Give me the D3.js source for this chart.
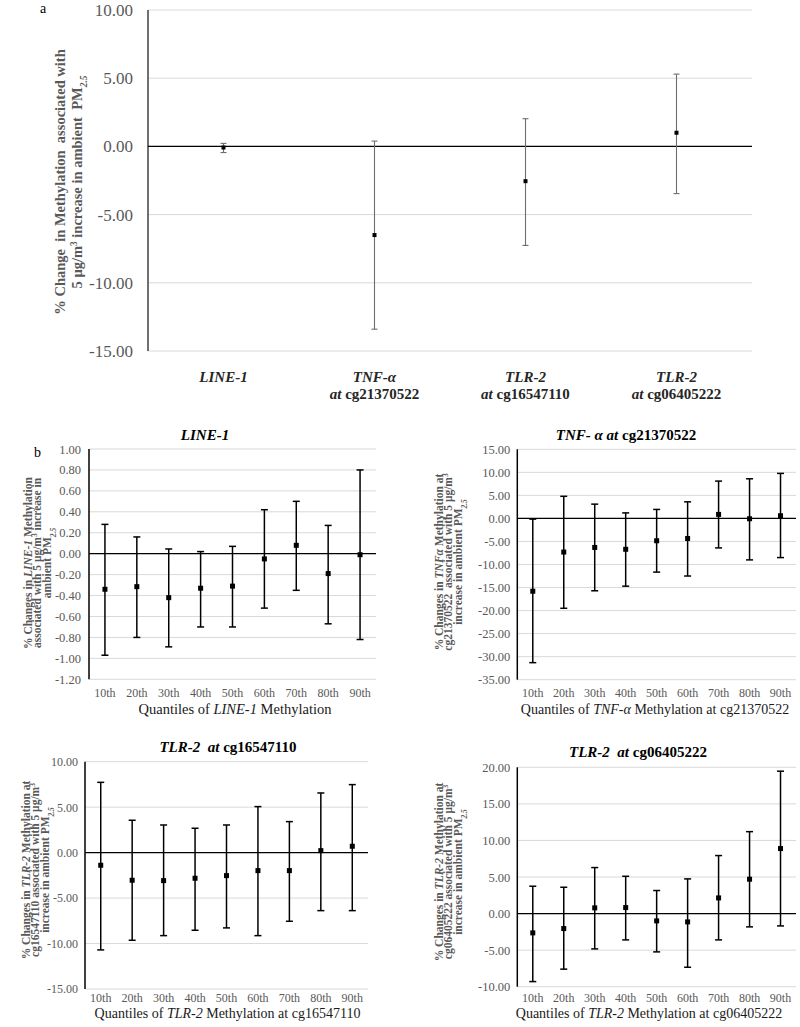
<!DOCTYPE html>
<html><head><meta charset="utf-8">
<script src="https://cdn.jsdelivr.net/npm/d3@7"></script>
<style>
body{margin:0;background:#fff}
svg{display:block}
text{font-family:"Liberation Serif","Times New Roman",serif;white-space:pre}
</style>
</head><body>
<svg id="chart" width="800" height="1027"></svg>
<script>
// ---------- Panel a ----------
const aGenes = ["LINE-1", "TNF-α", "TLR-2", "TLR-2"];
const aSites = ["", "cg21370522", "cg16547110", "cg06405222"];
const aEstimate = [-0.08, -6.5, -2.55, 1.0];
const aLower = [-0.45, -13.4, -7.26, -3.46];
const aUpper = [0.22, 0.39, 2.03, 5.3];
const aTicks = [10, 5, 0, -5, -10, -15];

// ---------- Panel b ----------
const quantiles = ["10th", "20th", "30th", "40th", "50th", "60th", "70th", "80th", "90th"];

const line1Estimate = [-0.34, -0.315, -0.42, -0.33, -0.31, -0.05, 0.08, -0.19, -0.01];
const line1Lower = [-0.97, -0.80, -0.89, -0.70, -0.70, -0.52, -0.35, -0.67, -0.82];
const line1Upper = [0.28, 0.16, 0.045, 0.02, 0.07, 0.42, 0.50, 0.27, 0.80];
const line1Ticks = [1.0, 0.8, 0.6, 0.4, 0.2, 0, -0.2, -0.4, -0.6, -0.8, -1.0, -1.2];

const tnfEstimate = [-15.8, -7.3, -6.3, -6.7, -4.85, -4.35, 0.87, -0.07, 0.58];
const tnfLower = [-31.3, -19.5, -15.7, -14.7, -11.65, -12.5, -6.4, -9.0, -8.5];
const tnfUpper = [-0.15, 4.8, 3.1, 1.2, 1.95, 3.6, 8.1, 8.6, 9.77];
const tnfTicks = [15, 10, 5, 0, -5, -10, -15, -20, -25, -30, -35];

const tlr165Estimate = [-1.39, -3.04, -3.08, -2.82, -2.53, -1.98, -1.98, 0.22, 0.70];
const tlr165Lower = [-10.7, -9.64, -9.13, -8.54, -8.28, -9.13, -7.55, -6.38, -6.38];
const tlr165Upper = [7.73, 3.56, 3.04, 2.68, 3.04, 5.06, 3.41, 6.56, 7.48];
const tlr165Ticks = [10, 5, 0, -5, -10, -15];

const tlr064Estimate = [-2.64, -2.05, 0.78, 0.82, -1.0, -1.14, 2.14, 4.7, 8.89];
const tlr064Lower = [-9.3, -7.6, -4.83, -3.6, -5.24, -7.34, -3.6, -1.82, -1.69];
const tlr064Upper = [3.74, 3.6, 6.29, 5.1, 3.15, 4.74, 7.93, 11.2, 19.47];
const tlr064Ticks = [20, 15, 10, 5, 0, -5, -10];

const svg = d3.select("#chart");

// rich text helper: segments [text, flags] flags: i italic, b bold, s sub, p sup
function rich(sel, segs) {
  segs.forEach(([t, f]) => {
    f = f || "";
    const ts = sel.append("tspan").text(t);
    if (f.includes("i")) ts.attr("font-style", "italic");
    if (f.includes("b")) ts.attr("font-weight", "bold");
    if (f.includes("s")) ts.attr("baseline-shift", "sub").attr("font-size", "65%");
    if (f.includes("p")) ts.attr("baseline-shift", "super").attr("font-size", "65%");
  });
  return sel;
}

function yTitle(cx, cy, lines, spacing, size) {
  const g = svg.append("g").attr("transform", `translate(${cx},${cy}) rotate(-90)`);
  lines.forEach((segs, i) => {
    const t = g.append("text")
      .attr("x", 0)
      .attr("y", (i - (lines.length - 1) / 2) * spacing)
      .attr("dy", "0.35em")
      .attr("text-anchor", "middle")
      .attr("font-size", size)
      .attr("font-weight", "bold")
      .attr("fill", "#595959");
    rich(t, segs);
  });
}

function panel(o) {
  const x = d3.scaleBand().domain(o.cats).range([o.x0, o.x1]).padding(0);
  const y = d3.scaleLinear().domain([d3.min(o.ticks), d3.max(o.ticks)]).range([o.yb, o.yt]);
  const g = svg.append("g");

  g.selectAll("line.grid").data(o.ticks.filter(d => d !== 0)).join("line")
    .attr("x1", o.x0).attr("x2", o.x1)
    .attr("y1", d => y(d)).attr("y2", d => y(d))
    .attr("stroke", "#d9d9d9").attr("stroke-width", 1);

  const ya = d3.axisLeft(y).tickValues(o.ticks).tickSize(0).tickPadding(o.tickPad)
    .tickFormat(d => d.toFixed(2));
  const yg = g.append("g").attr("transform", `translate(${o.x0},0)`).call(ya);
  yg.select(".domain").remove();
  yg.attr("font-family", null);
  yg.selectAll("text").attr("font-family", '"Liberation Serif",serif')
    .attr("font-size", o.tickSize).attr("fill", "#595959");

  g.append("line").attr("x1", o.x0).attr("x2", o.x0)
    .attr("y1", y(d3.max(o.ticks))).attr("y2", y(d3.min(o.ticks)))
    .attr("stroke", o.axisColor).attr("stroke-width", 1.5);

  g.append("line").attr("x1", o.x0).attr("x2", o.x1)
    .attr("y1", y(0)).attr("y2", y(0))
    .attr("stroke", "#000").attr("stroke-width", 1.3);

  if (o.xTicks) {
    const xa = d3.axisBottom(x).tickSize(0).tickPadding(0);
    const xg = g.append("g").attr("transform", `translate(0,${o.xTickY})`).call(xa);
    xg.select(".domain").remove();
    xg.attr("font-family", null);
    xg.selectAll("text").attr("dy", 0).attr("font-family", '"Liberation Serif",serif')
      .attr("font-size", o.xTickSize).attr("fill", "#595959");
  }

  const data = o.cats.map((c, i) => ({c, e: o.est[i], lo: o.lo[i], hi: o.hi[i]}));
  const cx = d => x(d.c) + x.bandwidth() / 2;
  const bars = g.selectAll("g.bar").data(data).join("g");
  bars.append("line").attr("x1", cx).attr("x2", cx)
    .attr("y1", d => y(d.lo)).attr("y2", d => y(d.hi))
    .attr("stroke", o.barColor).attr("stroke-width", o.barW);
  ["lo", "hi"].forEach(k => {
    bars.append("line").attr("x1", d => cx(d) - o.cap).attr("x2", d => cx(d) + o.cap)
      .attr("y1", d => y(d[k])).attr("y2", d => y(d[k]))
      .attr("stroke", o.barColor).attr("stroke-width", o.barW);
  });
  bars.append("rect")
    .attr("x", d => cx(d) - o.mk / 2).attr("y", d => y(d.e) - o.mk / 2)
    .attr("width", o.mk).attr("height", o.mk).attr("fill", "#000");
  return {x, y};
}

// ===== Panel a =====
const aCats = aGenes.map((g, i) => g + "|" + i);
const pa = panel({
  cats: aCats, est: aEstimate, lo: aLower, hi: aUpper, ticks: aTicks,
  x0: 148, x1: 752, yt: 10, yb: 351,
  tickPad: 15, tickSize: 17, axisColor: "#404040",
  barColor: "#6e6e6e", barW: 1.1, cap: 3, mk: 4
});
aCats.forEach((c, i) => {
  const cx = pa.x(c) + pa.x.bandwidth() / 2;
  rich(svg.append("text").attr("x", cx).attr("y", 382).attr("text-anchor", "middle")
    .attr("font-size", 15).attr("fill", "#262626"), [[aGenes[i], "bi"]]);
  if (aSites[i]) {
    rich(svg.append("text").attr("x", cx).attr("y", 399).attr("text-anchor", "middle")
      .attr("font-size", 15).attr("fill", "#262626"), [["at ", "bi"], [aSites[i], "b"]]);
  }
});
yTitle(68, 182, [
  [["% Change  in Methylation  associated with"]],
  [["5 μg/m"], ["3", "p"], [" increase in ambient  PM"], ["2.5", "si"]]
], 17, 14.5);
svg.append("text").attr("x", 40).attr("y", 13).attr("font-size", 14).text("a");

// ===== Panel b =====
svg.append("text").attr("x", 34).attr("y", 457).attr("font-size", 14).text("b");

const bCommon = {
  cats: quantiles, tickSize: 12.5, axisColor: "#000",
  barColor: "#000", barW: 1.5, cap: 3.5, mk: 5, xTicks: true, xTickSize: 12
};
const yTitleSize = 11.5, yTitleGap = 9.5;

// LINE-1
panel(Object.assign({}, bCommon, {
  est: line1Estimate, lo: line1Lower, hi: line1Upper, ticks: line1Ticks,
  x0: 89, x1: 376, yt: 449, yb: 679.3, tickPad: 8, xTickY: 697
}));
rich(svg.append("text").attr("x", 205).attr("y", 440).attr("text-anchor", "middle")
  .attr("font-size", 15), [["LINE-1", "bi"]]);
yTitle(37, 563, [
  [["% Changes in "], ["LINE-1", "i"], [" Methylation"]],
  [["associated with 5 μg/m"], ["3", "p"], [" increase in"]],
  [["ambient PM"], ["2.5", "si"]]
], yTitleGap, yTitleSize);
rich(svg.append("text").attr("x", 235).attr("y", 714).attr("text-anchor", "middle")
  .attr("font-size", 14.5).attr("fill", "#1a1a1a"),
  [["Quantiles of "], ["LINE-1", "i"], [" Methylation"]]);

// TNF-α
panel(Object.assign({}, bCommon, {
  est: tnfEstimate, lo: tnfLower, hi: tnfUpper, ticks: tnfTicks,
  x0: 517.3, x1: 796, yt: 449.3, yb: 679.7, tickPad: 7, xTickY: 697
}));
rich(svg.append("text").attr("x", 626).attr("y", 440).attr("text-anchor", "middle")
  .attr("font-size", 15), [["TNF- α at ", "bi"], ["cg21370522", "b"]]);
yTitle(448, 562, [
  [["% Changes in "], ["TNFα", "i"], [" Methylation at"]],
  [["cg21370522  associated with 5 μg/m"], ["3", "p"]],
  [["increase in ambient PM"], ["2.5", "si"]]
], yTitleGap, yTitleSize);
rich(svg.append("text").attr("x", 655).attr("y", 714).attr("text-anchor", "middle")
  .attr("font-size", 14).attr("fill", "#1a1a1a"),
  [["Quantiles of "], ["TNF-α", "i"], [" Methylation at cg21370522"]]);

// TLR-2 cg16547110
panel(Object.assign({}, bCommon, {
  est: tlr165Estimate, lo: tlr165Lower, hi: tlr165Upper, ticks: tlr165Ticks,
  x0: 85, x1: 368, yt: 761.7, yb: 989, tickPad: 7, xTickY: 1002, tickSize: 12
}));
rich(svg.append("text").attr("x", 228).attr("y", 752).attr("text-anchor", "middle")
  .attr("font-size", 15), [["TLR-2  at ", "bi"], ["cg16547110", "b"]]);
yTitle(35, 870, [
  [["% Changes in "], ["TLR-2", "i"], [" Methylation at"]],
  [["cg16547110 associated with 5 μg/m"], ["3", "p"]],
  [["increase in ambient PM"], ["2.5", "si"]]
], yTitleGap, yTitleSize);
rich(svg.append("text").attr("x", 227.5).attr("y", 1018).attr("text-anchor", "middle")
  .attr("font-size", 14).attr("fill", "#1a1a1a"),
  [["Quantiles of "], ["TLR-2", "i"], [" Methylation at cg16547110"]]);

// TLR-2 cg06405222
panel(Object.assign({}, bCommon, {
  est: tlr064Estimate, lo: tlr064Lower, hi: tlr064Upper, ticks: tlr064Ticks,
  x0: 517.3, x1: 796, yt: 767.3, yb: 986.7, tickPad: 7, xTickY: 1002
}));
rich(svg.append("text").attr("x", 638).attr("y", 757).attr("text-anchor", "middle")
  .attr("font-size", 15), [["TLR-2  at ", "bi"], ["cg06405222", "b"]]);
yTitle(448, 872, [
  [["% Changes in "], ["TLR-2", "i"], [" Methylation at"]],
  [["cg06405222 associated with 5 μg/m"], ["3", "p"]],
  [["increase in ambient PM"], ["2.5", "si"]]
], yTitleGap, yTitleSize);
rich(svg.append("text").attr("x", 649).attr("y", 1018).attr("text-anchor", "middle")
  .attr("font-size", 14).attr("fill", "#1a1a1a"),
  [["Quantiles of "], ["TLR-2", "i"], [" Methylation at cg06405222"]]);
</script>
</body></html>
